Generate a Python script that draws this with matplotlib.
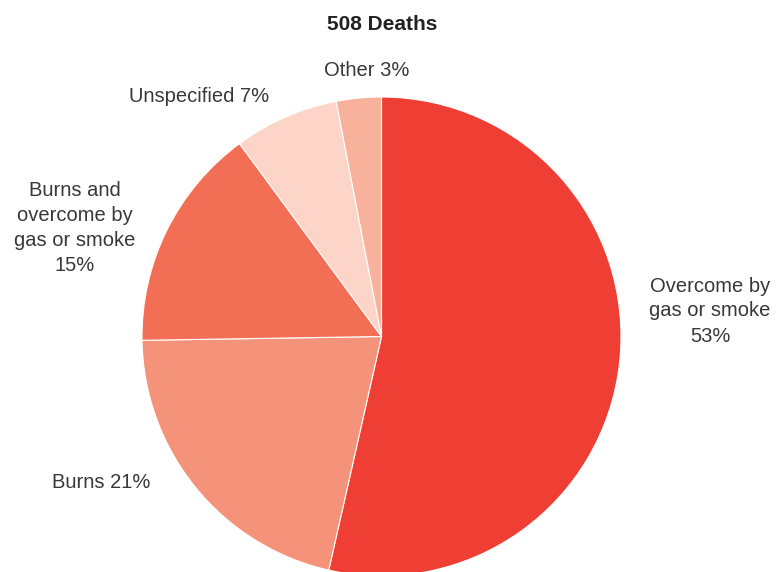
import matplotlib.pyplot as plt

# data
labels = ['Overcome by\ngas or smoke\n53%', 'Burns 21%',
          'Burns and\novercome by\ngas or smoke\n15%', 'Unspecified 7%', 'Other 3%']
shares = [53, 21, 15, 7, 3]
colors = ['#EF3E33', '#F4937A', '#F26E55', '#FCD5C8', '#F8B29C']
# label anchor points, in image pixels (x, y from top)
label_pos = [(710, 311), (101, 482), (75, 228), (199, 97), (367, 70)]

W, H = 777, 572
fig = plt.figure(figsize=(W / 100, H / 100), dpi=100)
ax = fig.add_axes([0, 0, 1, 1])

cx, cy, r = 381.5, H - 336.5, 239.5
ax.pie(shares, colors=colors, startangle=90, counterclock=False,
       center=(cx, cy), radius=r, frame=True,
       wedgeprops=dict(edgecolor='white', linewidth=0.8))
ax.set_xlim(0, W)
ax.set_ylim(0, H)
ax.set_aspect('equal')
ax.axis('off')

for lab, (x, y) in zip(labels, label_pos):
    ax.text(x, H - y, lab, ha='center', va='center', fontsize=14.5,
            color='#383838', family='Liberation Sans', linespacing=1.4)

ax.text(382, H - 25, '508 Deaths', ha='center', va='center', fontsize=15,
        fontweight='bold', color='#222222', family='Liberation Sans')

fig.savefig('out.png', dpi=100)
